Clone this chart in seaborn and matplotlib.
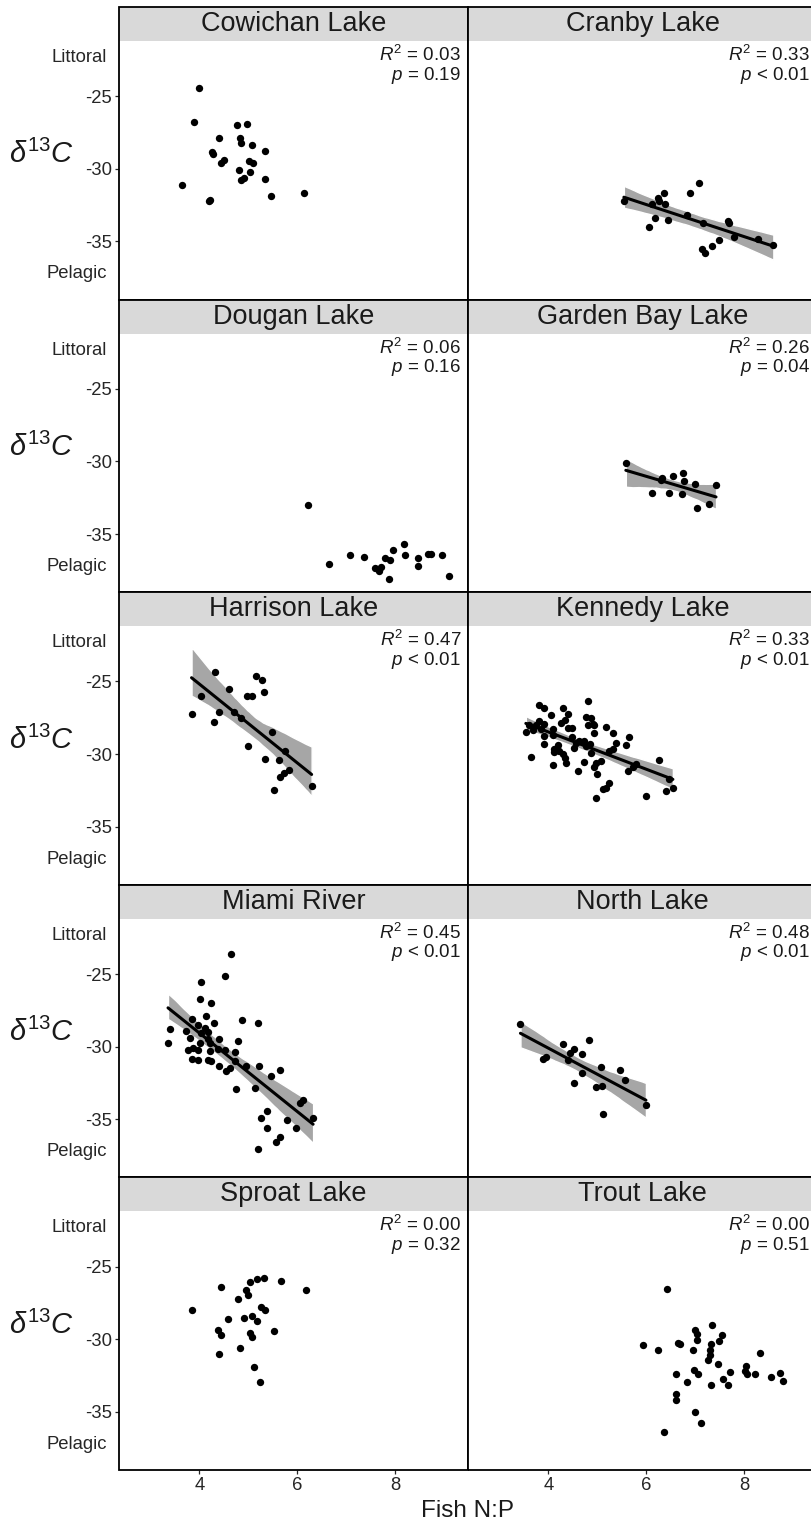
import matplotlib
matplotlib.use("Agg")
import matplotlib.pyplot as plt
from matplotlib.patches import Rectangle
import seaborn as sns

# Fish N:P (x) and d13C (y) per lake
cowichan_x = [4.00, 3.88, 4.76, 4.98, 4.41, 4.82, 4.84, 5.07, 5.33, 4.26, 4.28, 4.50, 4.45,
              5.01, 5.10, 4.81, 5.04, 4.90, 4.84, 5.33, 3.65, 5.47, 6.13, 4.21, 4.19]
cowichan_y = [-24.43, -26.78, -26.99, -26.90, -27.86, -27.86, -28.20, -28.39, -28.78, -28.82,
              -28.96, -29.42, -29.60, -29.46, -29.60, -30.10, -30.19, -30.61, -30.79, -30.68,
              -31.09, -31.84, -31.64, -32.12, -32.21]

cranby_x = [5.54, 6.06, 6.18, 6.12, 6.23, 6.35, 6.26, 6.38, 6.45, 6.82, 6.88, 7.07, 7.16,
            7.67, 7.68, 7.78, 7.48, 7.33, 7.13, 7.20, 8.27, 8.59]
cranby_y = [-32.21, -34.00, -33.40, -32.44, -31.98, -31.68, -32.21, -32.39, -33.54, -33.19,
            -31.68, -30.97, -33.70, -33.58, -33.76, -34.66, -34.91, -35.32, -35.53, -35.78,
            -34.84, -35.23]

dougan_x = [6.22, 6.64, 7.07, 7.35, 7.78, 7.88, 7.59, 7.66, 7.71, 7.87, 7.96, 8.18, 8.19,
            8.46, 8.46, 8.67, 8.72, 8.95, 9.10]
dougan_y = [-32.99, -37.03, -36.43, -36.59, -36.66, -36.80, -37.36, -37.54, -37.26, -38.09,
            -36.09, -35.69, -36.46, -36.66, -37.22, -36.39, -36.34, -36.43, -37.89]

garden_x = [5.58, 6.12, 6.32, 6.54, 6.46, 6.72, 6.74, 6.76, 6.99, 7.03, 7.27, 7.42, 6.30]
garden_y = [-30.08, -32.16, -31.17, -31.00, -32.16, -32.23, -30.77, -31.35, -31.58, -33.24,
            -32.92, -31.64, -31.30]

harrison_x = [3.84, 4.03, 4.32, 4.29, 4.41, 4.61, 4.71, 4.84, 4.97, 5.07, 4.99, 5.16, 5.27,
              5.31, 5.33, 5.48, 5.52, 5.63, 5.74, 5.65, 5.73, 5.82, 6.29]
harrison_y = [-27.22, -26.03, -24.34, -27.79, -27.08, -25.53, -27.11, -27.54, -26.03, -26.03,
              -29.42, -24.66, -24.91, -25.76, -30.33, -28.50, -32.48, -30.38, -29.81, -31.57,
              -31.29, -31.11, -32.21]

kennedy_x = [4.80, 3.81, 3.92, 4.29, 4.39, 4.05, 4.77, 4.87, 4.33, 3.81, 4.26, 3.92, 3.61,
             4.80, 4.94, 5.18, 4.39, 4.49, 3.84, 3.68, 4.09, 3.54, 5.31, 4.94, 4.09, 5.65,
             4.49, 3.92, 4.63, 4.73, 4.56, 5.38, 4.84, 3.92, 5.58, 4.19, 4.77, 4.53, 4.12,
             5.31, 4.22, 5.24, 4.12, 4.87, 4.29, 3.64, 4.33, 6.26, 4.73, 5.07, 4.97, 4.36,
             5.79, 4.09, 4.94, 5.72, 5.62, 4.60, 5.00, 6.47, 5.24, 5.18, 5.11, 6.54, 6.40,
             6.00, 4.97, 3.75, 4.90]
kennedy_y = [-26.37, -26.65, -26.83, -26.83, -27.24, -27.33, -27.47, -27.52, -27.63, -27.70,
             -27.86, -27.93, -27.97, -28.02, -28.02, -28.16, -28.20, -28.20, -28.25, -28.32,
             -28.25, -28.48, -28.55, -28.55, -28.66, -28.84, -28.84, -28.77, -29.07, -29.11,
             -29.23, -29.23, -29.30, -29.30, -29.35, -29.35, -29.46, -29.58, -29.62, -29.62,
             -29.76, -29.76, -29.85, -29.92, -30.03, -30.22, -30.26, -30.38, -30.54, -30.49,
             -30.61, -30.61, -30.67, -30.77, -30.90, -30.90, -31.18, -31.18, -31.36, -31.75,
             -31.98, -32.32, -32.44, -32.37, -32.55, -32.89, -33.01, -27.97, -27.93]

miami_x = [4.65, 4.52, 4.04, 4.01, 4.23, 4.13, 3.84, 4.86, 5.20, 4.29, 3.97, 3.41, 4.11,
           3.73, 4.18, 4.04, 3.80, 4.41, 4.18, 4.01, 3.36, 4.79, 4.21, 3.87, 3.77, 3.97,
           4.38, 4.52, 4.21, 4.72, 3.84, 3.97, 4.18, 4.24, 4.72, 4.96, 4.41, 4.62, 4.55,
           5.22, 5.65, 5.47, 4.75, 5.13, 6.12, 6.06, 5.37, 6.32, 5.25, 5.78, 5.98, 5.37,
           5.64, 5.57, 5.20]
miami_y = [-23.62, -25.16, -25.53, -26.69, -26.96, -27.89, -28.07, -28.16, -28.35, -28.35,
           -28.53, -28.76, -28.70, -28.93, -29.00, -29.09, -29.39, -29.46, -29.50, -29.73,
           -29.78, -29.62, -29.73, -30.08, -30.24, -30.20, -30.15, -30.20, -30.31, -30.38,
           -30.84, -30.93, -30.93, -31.00, -31.00, -31.30, -31.35, -31.46, -31.69, -31.35,
           -31.62, -32.04, -32.92, -32.85, -33.66, -33.89, -34.40, -34.92, -34.92, -35.04,
           -35.62, -35.62, -36.24, -36.54, -37.05]

north_x = [3.43, 3.90, 3.95, 4.29, 4.44, 4.53, 4.41, 4.69, 4.82, 4.69, 4.53, 4.97, 5.10,
           5.08, 5.46, 5.56, 5.12, 5.99]
north_y = [-28.46, -30.84, -30.73, -29.85, -30.43, -30.13, -30.89, -30.50, -29.55, -31.84,
           -32.51, -32.78, -32.69, -31.40, -31.61, -32.32, -34.63, -34.03]

sproat_x = [3.84, 4.45, 4.38, 4.44, 4.41, 4.58, 4.78, 4.82, 4.90, 4.96, 5.00, 5.03, 5.07,
            5.03, 5.07, 5.18, 5.32, 5.17, 5.25, 5.33, 5.12, 5.23, 5.52, 5.67, 6.18]
sproat_y = [-27.97, -26.38, -29.35, -29.68, -31.04, -28.62, -27.24, -30.60, -28.53, -26.61,
            -26.94, -26.08, -28.43, -29.59, -29.82, -25.85, -25.81, -28.71, -27.81, -27.95,
            -31.89, -32.97, -29.42, -25.99, -26.59]

trout_x = [6.41, 5.92, 6.24, 6.65, 6.69, 6.99, 7.04, 7.04, 6.95, 7.34, 7.55, 7.48, 7.31,
           7.30, 7.29, 7.25, 7.46, 8.31, 6.60, 6.98, 7.06, 6.82, 7.31, 7.56, 7.67, 7.70,
           8.04, 8.01, 8.05, 8.22, 8.54, 8.73, 8.79, 6.61, 6.61, 6.99, 7.12, 6.36]
trout_y = [-26.52, -30.41, -30.76, -30.23, -30.35, -29.38, -29.61, -30.07, -30.74, -29.03,
           -29.70, -30.12, -30.30, -30.74, -31.08, -31.45, -31.68, -30.92, -32.37, -32.14,
           -32.42, -32.97, -33.18, -32.76, -33.16, -32.28, -31.82, -32.19, -32.42, -32.42,
           -32.58, -32.33, -32.90, -33.80, -34.19, -34.98, -35.76, -36.38]

lakes = ["Cowichan Lake", "Cranby Lake", "Dougan Lake", "Garden Bay Lake", "Harrison Lake",
         "Kennedy Lake", "Miami River", "North Lake", "Sproat Lake", "Trout Lake"]
xs = [cowichan_x, cranby_x, dougan_x, garden_x, harrison_x,
      kennedy_x, miami_x, north_x, sproat_x, trout_x]
ys = [cowichan_y, cranby_y, dougan_y, garden_y, harrison_y,
      kennedy_y, miami_y, north_y, sproat_y, trout_y]
r2_labels = ["0.03", "0.33", "0.06", "0.26", "0.47", "0.33", "0.45", "0.48", "0.00", "0.00"]
p_labels = ["= 0.19", "< 0.01", "= 0.16", "= 0.04", "< 0.01", "< 0.01", "< 0.01", "< 0.01",
            "= 0.32", "= 0.51"]
significant = [False, True, False, True, True, True, True, True, False, False]

sns.set_style("white")
plt.rcParams["font.family"] = ["Liberation Sans", "DejaVu Sans"]
plt.rcParams["mathtext.fontset"] = "custom"
plt.rcParams["mathtext.it"] = "Liberation Sans:italic"
plt.rcParams["mathtext.rm"] = "Liberation Sans"

W, H = 811, 1524
panel_h = 258
strip_h = 34
sh = strip_h / panel_h

fig, axes = plt.subplots(5, 2, figsize=(W / 100, H / 100), dpi=100, sharex=True, sharey=True,
                         gridspec_kw=dict(hspace=sh, wspace=0))
fig.subplots_adjust(left=119 / W, right=817 / W, top=1 - 41 / H, bottom=1 - 1470 / H)

tick_col = "#262626"
for i, ax in enumerate(axes.flat):
    col = i % 2
    row = i // 2
    if significant[i]:
        sns.regplot(x=xs[i], y=ys[i], ax=ax, scatter=False, color="black", ci=95,
                    n_boot=1000, seed=1, line_kws={"lw": 2.2})
        band = ax.collections[-1]
        band.set_facecolor("#a6a6a6")
        band.set_alpha(1)
    sns.scatterplot(x=xs[i], y=ys[i], ax=ax, color="black", s=28, linewidth=0, zorder=4)

    ax.set_xlim(2.36, 9.48)
    ax.set_ylim(-39.0, -21.2)
    ax.set_xticks([4, 6, 8])
    ax.set_yticks([-22.2, -25, -30, -35, -37.1])
    ax.set_yticklabels(["Littoral", "-25", "-30", "-35", "Pelagic"])
    ax.tick_params(axis="both", labelsize=13.3, labelcolor=tick_col, color=tick_col,
                   length=3, width=0.9, pad=2)
    ax.tick_params(axis="y", left=(col == 0), labelleft=(col == 0))
    ax.tick_params(axis="x", bottom=(row == 4), labelbottom=(row == 4))
    if col == 0:
        yt = ax.yaxis.get_major_ticks()
        for k in (0, 4):
            yt[k].tick1line.set_visible(False)
            yt[k].set_pad(6)
    for s in ax.spines.values():
        s.set_visible(False)
    ax.grid(False)

    # facet strip and frame
    ax.add_patch(Rectangle((0, 1), 1, sh, transform=ax.transAxes, facecolor="#d9d9d9",
                           edgecolor="none", clip_on=False, zorder=5))
    ax.add_patch(Rectangle((0, 0), 1, 1 + sh, transform=ax.transAxes, fill=False,
                           edgecolor="black", lw=1.3, clip_on=False, zorder=6))
    ax.text(0.5, 1 + sh / 2, lakes[i], transform=ax.transAxes, ha="center", va="center",
            fontsize=19.5, color="#1a1a1a", zorder=7)

    ax.text(0.98, 0.946, r"$R^2$ = " + r2_labels[i], transform=ax.transAxes,
            ha="right", va="center", fontsize=13.5, color="#1a1a1a")
    ax.text(0.98, 0.868, r"$p$ " + p_labels[i], transform=ax.transAxes,
            ha="right", va="center", fontsize=13.5, color="#1a1a1a")

    if col == 0:
        ax.text(-0.222, 0.56, r"$\delta^{\mathit{13}}C$", transform=ax.transAxes,
                ha="center", va="center", fontsize=21, color="#1a1a1a")
    ax.set_xlabel("")
    ax.set_ylabel("")

fig.text(468 / W, 1 - 1511 / H, "Fish N:P", ha="center", va="center", fontsize=17.5,
         color="#1a1a1a")

plt.savefig("out.png", dpi=100)
